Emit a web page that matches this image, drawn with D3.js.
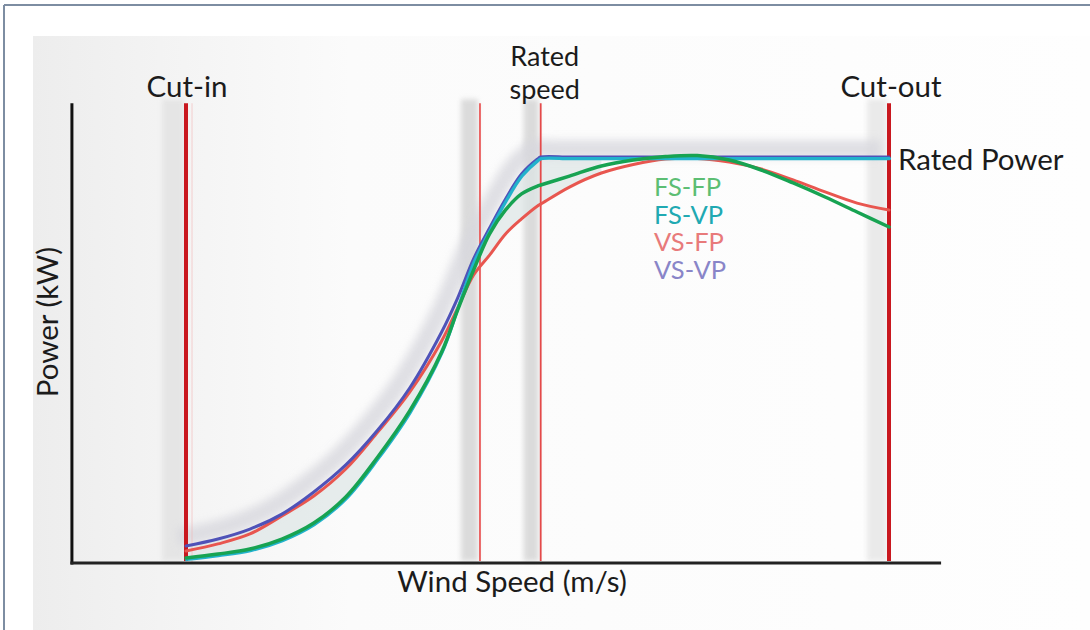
<!DOCTYPE html>
<html>
<head>
<meta charset="utf-8">
<script src="https://cdn.jsdelivr.net/npm/d3@7"></script>
<style>
  html, body { margin: 0; padding: 0; background: #ffffff; }
  svg { display: block; }
  text { font-family: "Lato", "Open Sans", sans-serif; }
</style>
</head>
<body>
<svg id="chart" width="1090" height="630"></svg>
<script>
// ---------- data ----------
const windSpeed = [3, 4, 5, 6, 7, 8, 9, 10, 11, 11.5, 12, 12.5, 13, 13.5, 14, 14.1,
                   15, 16, 17, 18, 19, 20, 21, 22, 23, 24, 25];            // m/s
const fsFp = [25, 44, 69, 118, 197, 325, 522, 749, 1039, 1246, 1443, 1621, 1739, 1818, 1857, 1862,
              1906, 1956, 1985, 2002, 2007, 1985, 1936, 1872, 1803, 1729, 1655];   // kW
const fsVp = [25, 44, 69, 118, 197, 325, 522, 749, 1045, 1265, 1490, 1645, 1790, 1914, 1990, 2000,
              2000, 2000, 2000, 2000, 2000, 2000, 2000, 2000, 2000, 2000, 2000];
const vsFp = [59, 94, 143, 232, 330, 463, 645, 842, 1094, 1256, 1419, 1517, 1621, 1695, 1759, 1768,
              1852, 1921, 1963, 1990, 1993, 1975, 1941, 1887, 1828, 1773, 1739];
const vsVp = [84, 118, 167, 241, 350, 483, 655, 862, 1138, 1305, 1498, 1650, 1793, 1916, 1990, 2000,
              2000, 2000, 2000, 2000, 2000, 2000, 2000, 2000, 2000, 2000, 2000];
const seriesNames = ["FS-FP", "FS-VP", "VS-FP", "VS-VP"];
const markerSpeeds = [3, 12.2, 14.1, 25];          // cut-in, (aux), rated speed, cut-out
const ratedPower = 2000;                           // kW
const axisMaxPower = 2265;
const axisSpeedRange = [-0.57, 26.63];

// ---------- layout ----------
const svg = d3.select("#chart");
const x = d3.scaleLinear().domain([3, 25]).range([186, 889]);
const y = d3.scaleLinear().domain([0, 2000]).range([563, 157]);

const lineColors = { "FS-FP": "#17a352", "FS-VP": "#22b2cc", "VS-FP": "#e8564f", "VS-VP": "#4f52b8" };
const legendColors = { "FS-FP": "#5cbe73", "FS-VP": "#20a9b2", "VS-FP": "#e87a7a", "VS-VP": "#8985c8" };

const defs = svg.append("defs");
const blur = defs.append("filter").attr("id", "blur").attr("x", "-20%").attr("y", "-20%").attr("width", "140%").attr("height", "140%");
blur.append("feGaussianBlur").attr("stdDeviation", 4);
const blur2 = defs.append("filter").attr("id", "blur2").attr("x", "-50%").attr("y", "-5%").attr("width", "200%").attr("height", "110%");
blur2.append("feGaussianBlur").attr("stdDeviation", 2.5);

const bgGrad = defs.append("linearGradient").attr("id", "bg").attr("x1", 0).attr("x2", 1).attr("y1", 0).attr("y2", 0);
bgGrad.append("stop").attr("offset", "0%").attr("stop-color", "#ededed");
bgGrad.append("stop").attr("offset", "12%").attr("stop-color", "#f3f3f3");
bgGrad.append("stop").attr("offset", "30%").attr("stop-color", "#fbfbfb");
bgGrad.append("stop").attr("offset", "100%").attr("stop-color", "#fefefe");

// outer frame
svg.append("rect").attr("x", 0).attr("y", 0).attr("width", 1090).attr("height", 630).attr("fill", "#ffffff");
svg.append("line").attr("x1", 4).attr("x2", 4).attr("y1", 5).attr("y2", 630).attr("stroke", "#7d8da2").attr("stroke-width", 2);
svg.append("line").attr("x1", 4).attr("x2", 1090).attr("y1", 5).attr("y2", 5).attr("stroke", "#7d8da2").attr("stroke-width", 2);
// panel
svg.append("rect").attr("x", 33).attr("y", 36).attr("width", 1057).attr("height", 594).attr("fill", "url(#bg)");

const xL = x(axisSpeedRange[0]), xR = x(axisSpeedRange[1]);
const yTop = y(axisMaxPower), yBot = y(0);

// gray bands behind vertical markers
const bandSpec = [[22, "#e4e4e4"], [17, "#d8d8d8"], [15, "#d8d8d8"], [20, "#e8e8e8"]];
markerSpeeds.forEach((s, i) => {
  svg.append("rect")
    .attr("x", x(s) - bandSpec[i][0] - 2).attr("y", yTop - 4)
    .attr("width", bandSpec[i][0]).attr("height", yBot - yTop + 2)
    .attr("fill", bandSpec[i][1]).attr("filter", "url(#blur2)").attr("opacity", 0.9);
});

const data = windSpeed.map((w, i) => ({ w, "FS-FP": fsFp[i], "FS-VP": fsVp[i], "VS-FP": vsFp[i], "VS-VP": vsVp[i] }));
const curve = d3.curveCatmullRom.alpha(0.5);

// shading between curves
const area = d3.area()
  .x(d => x(d.w))
  .y0(d => y(Math.min(d["FS-FP"], d["VS-FP"])))
  .y1(d => y(d["VS-VP"]))
  .curve(curve);
svg.append("path").datum(data.filter(d => d.w <= 16))
  .attr("d", area).attr("fill", "#dde5e6").attr("opacity", 0.7);

// shadow glow along the envelope curve
const line = key => d3.line().x(d => x(d.w)).y(d => y(d[key])).curve(curve);
svg.append("path").datum(data)
  .attr("d", line("VS-VP")).attr("fill", "none")
  .attr("stroke", "#d8d8de").attr("stroke-width", 18)
  .attr("transform", "translate(-8,-8)")
  .attr("filter", "url(#blur)").attr("opacity", 0.8);

// vertical marker lines
const markerStyle = [["#c9181f", 4], ["#ea5a5a", 1.8], ["#e44a4a", 1.8], ["#c9181f", 4]];
svg.append("line").attr("x1", x(markerSpeeds[0]) + 6).attr("x2", x(markerSpeeds[0]) + 6)
  .attr("y1", yTop).attr("y2", yBot).attr("stroke", "#f2b4b4").attr("stroke-width", 1).attr("opacity", 0.6);
markerSpeeds.forEach((s, i) => {
  svg.append("line")
    .attr("x1", x(s)).attr("x2", x(s))
    .attr("y1", yTop).attr("y2", yBot - 2)
    .attr("stroke", markerStyle[i][0]).attr("stroke-width", markerStyle[i][1]);
});

// curves
const drawOrder = ["VS-FP", "VS-VP", "FS-VP", "FS-FP"];
const widths = { "VS-FP": 3, "VS-VP": 3, "FS-FP": 3.5, "FS-VP": 3.2 };
drawOrder.forEach(k => {
  svg.append("path").datum(data)
    .attr("d", line(k)).attr("fill", "none")
    .attr("stroke", lineColors[k]).attr("stroke-width", widths[k])
    .attr("stroke-linecap", "round")
    .attr("transform", k === "FS-VP" ? "translate(0.5,1.6)" : null);
});

// axes
svg.append("line").attr("x1", xL).attr("x2", xL).attr("y1", yTop).attr("y2", yBot + 1.5)
  .attr("stroke", "#111").attr("stroke-width", 3);
svg.append("line").attr("x1", xL - 1.5).attr("x2", xR).attr("y1", yBot).attr("y2", yBot)
  .attr("stroke", "#222").attr("stroke-width", 3);

// labels
const txt = (t, xx, yy, size, anchor, color) =>
  svg.append("text").attr("x", xx).attr("y", yy).attr("font-size", size)
    .attr("text-anchor", anchor || "start").attr("fill", color || "#1b1b1b").text(t);

const fs = 29.5;
txt("Cut-in", x(markerSpeeds[0]) + 1, 97, fs, "middle");
txt("Rated", x(markerSpeeds[2]) + 4, 66, 27, "middle");
txt("speed", x(markerSpeeds[2]) + 4, 98.5, 27, "middle");
txt("Cut-out", x(markerSpeeds[3]) + 2, 97, fs, "middle");
txt("Rated Power", 898, y(ratedPower) + 13, fs, "start");
txt("Wind Speed (m/s)", 512, 592, fs, "middle");
svg.append("text").attr("transform", `translate(58,322) rotate(-90)`)
  .attr("font-size", fs).attr("text-anchor", "middle").attr("fill", "#1b1b1b").text("Power (kW)");

seriesNames.forEach((n, i) => {
  txt(n, 654, 196 + i * 27.6, 25.5, "start", legendColors[n]);
});
</script>
</body>
</html>
